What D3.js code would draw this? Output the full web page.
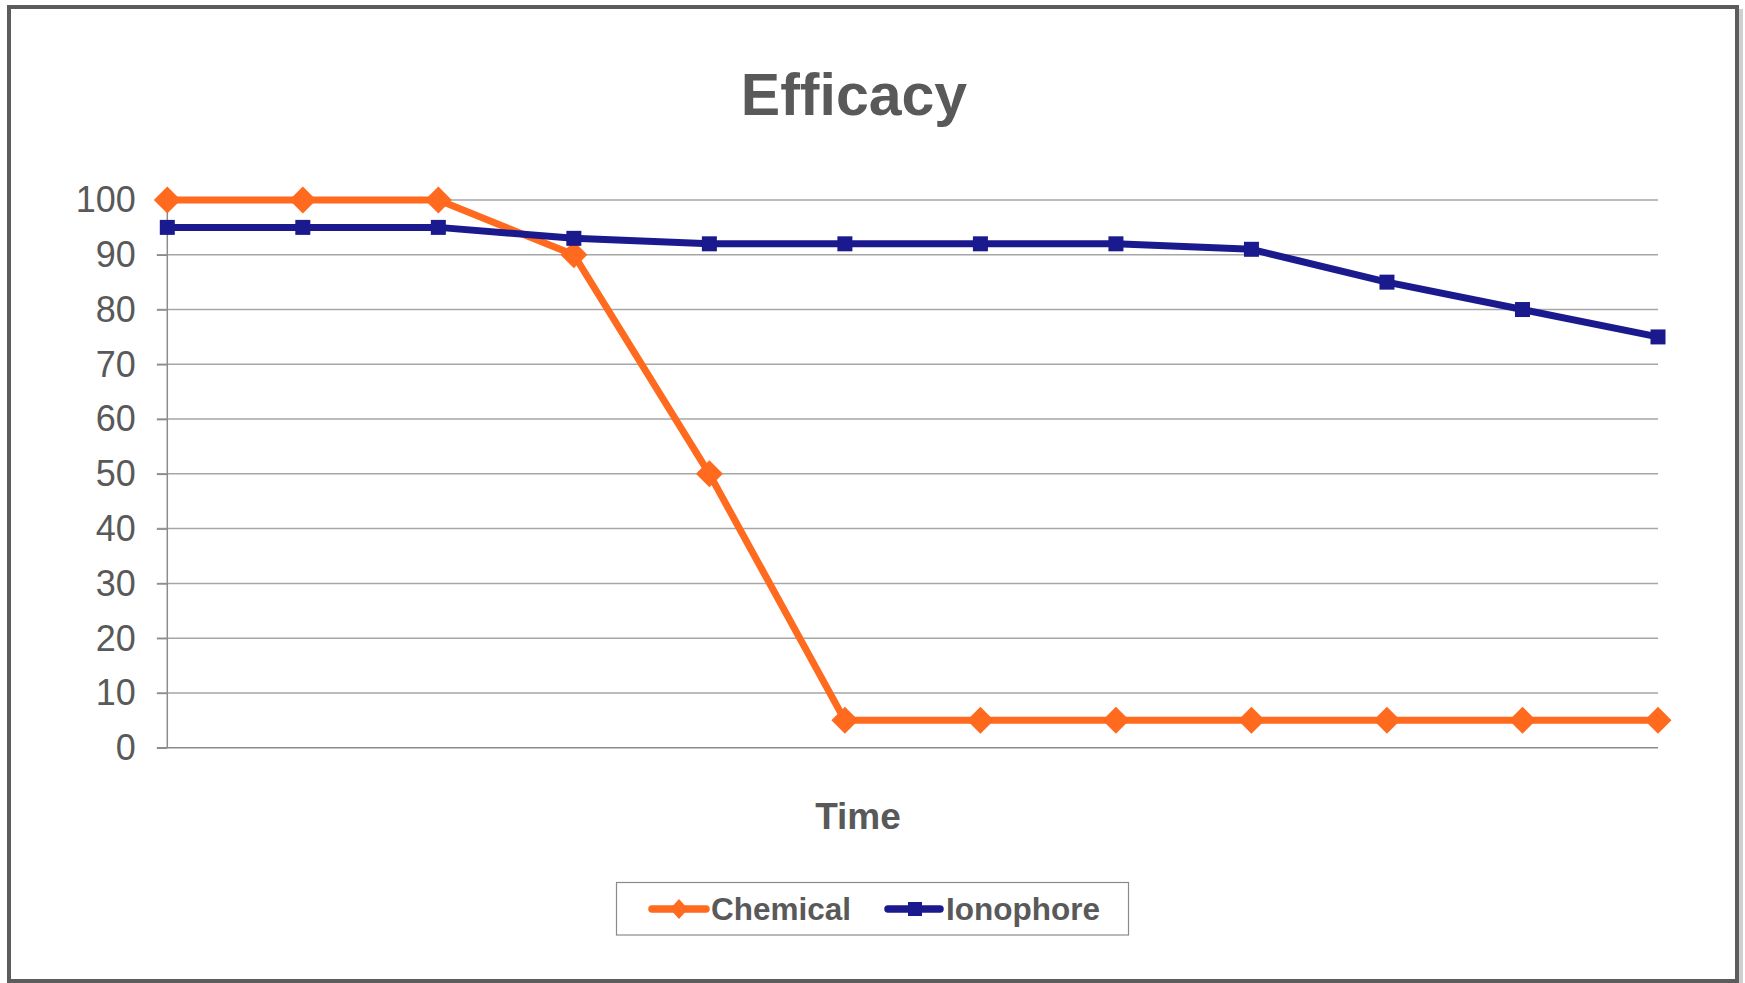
<!DOCTYPE html>
<html><head><meta charset="utf-8">
<script src="https://cdn.jsdelivr.net/npm/d3@7"></script>
<style>html,body{margin:0;padding:0;background:#fff;overflow:hidden}svg{display:block}</style>
</head><body>
<svg id="c" width="1745" height="983"></svg>
<script>
const categories = [1,2,3,4,5,6,7,8,9,10,11,12];
const chemical = [100,100,100,90,50,5,5,5,5,5,5,5];
const ionophore = [95,95,95,93,92,92,92,92,91,85,80,75];
const yTicks = [0,10,20,30,40,50,60,70,80,90,100];
const seriesNames = ["Chemical","Ionophore"];

const svg = d3.select("#c");
const font = "Liberation Sans, Arial, Helvetica, sans-serif";
const textCol = "#595959";
const orange = "#FF6A1E", navy = "#1A1A8E";

// shadow + border
svg.append("rect").attr("x",13).attr("y",11).attr("width",1728).attr("height",974)
  .attr("fill","none").attr("stroke","#cfcfcf").attr("stroke-width",4);
svg.append("rect").attr("x",9).attr("y",7).attr("width",1728).attr("height",974)
  .attr("fill","#fff").attr("stroke","#5c5c5c").attr("stroke-width",4);

const x = d3.scalePoint().domain(categories).range([167.3,1658]).padding(0);
const y = d3.scaleLinear().domain([0,100]).range([747.7,200]);

// gridlines
const grid = svg.append("g");
grid.selectAll("line").data(yTicks.filter(d=>d>0)).join("line")
  .attr("x1",157).attr("x2",1658).attr("y1",d=>y(d)).attr("y2",d=>y(d))
  .attr("stroke","#a6a6a6").attr("stroke-width",1.5);

// y axis
const yAxis = svg.append("g").attr("transform","translate(167.3,0)")
  .call(d3.axisLeft(y).tickValues(yTicks).tickSize(10.5).tickPadding(21).tickFormat(d3.format("d")));
yAxis.select(".domain").attr("stroke","#8c8c8c").attr("stroke-width",1.5).attr("d","M0,"+y(0)+"V"+y(100));
yAxis.selectAll(".tick line").attr("stroke","#8c8c8c").attr("stroke-width",1.5);
yAxis.selectAll(".tick text").attr("fill",textCol).style("font-family",font).style("font-size","36px").attr("dy","0.33em");

// x axis baseline
const xAxis = svg.append("g").attr("transform","translate(0,"+y(0)+")")
  .call(d3.axisBottom(x).tickSize(0).tickFormat(""));
xAxis.select(".domain").attr("stroke","#8c8c8c").attr("stroke-width",1.5).attr("d","M157,0H1658");

// lines
const line = d3.line().x((d,i)=>x(categories[i])).y(d=>y(d));
svg.append("path").datum(chemical).attr("d",line).attr("fill","none")
  .attr("stroke",orange).attr("stroke-width",7).attr("stroke-linejoin","round");
svg.append("path").datum(ionophore).attr("d",line).attr("fill","none")
  .attr("stroke",navy).attr("stroke-width",7).attr("stroke-linejoin","round");

// markers
svg.append("g").selectAll("path").data(chemical).join("path")
  .attr("transform",(d,i)=>`translate(${x(categories[i])},${y(d)})`)
  .attr("d","M0,-13.5L13.5,0L0,13.5L-13.5,0Z").attr("fill",orange);
svg.append("g").selectAll("rect").data(ionophore).join("rect")
  .attr("x",(d,i)=>x(categories[i])-7.5).attr("y",d=>y(d)-7.5)
  .attr("width",15).attr("height",15).attr("fill",navy);

// title
svg.append("text").attr("x",854).attr("y",115).attr("text-anchor","middle")
  .style("font-family",font).style("font-size","59px").style("font-weight","bold")
  .attr("fill",textCol).text("Efficacy");
svg.append("text").attr("x",858).attr("y",828.5).attr("text-anchor","middle")
  .style("font-family",font).style("font-size","37px").style("font-weight","bold")
  .attr("fill",textCol).text("Time");

// legend
const lg = svg.append("g");
lg.append("rect").attr("x",616.5).attr("y",882.5).attr("width",512).attr("height",52.5)
  .attr("fill","#fff").attr("stroke","#8a8a8a").attr("stroke-width",1.2);
const ly = 909;
const items = [
  {name:seriesNames[0], col:orange, x1:652, x2:706, mx:679, tx:711, shape:"diamond"},
  {name:seriesNames[1], col:navy, x1:888, x2:940, mx:915, tx:946, shape:"square"}
];
items.forEach(it=>{
  lg.append("line").attr("x1",it.x1).attr("x2",it.x2).attr("y1",ly).attr("y2",ly)
    .attr("stroke",it.col).attr("stroke-width",7.5).attr("stroke-linecap","round");
  if(it.shape==="diamond"){
    lg.append("path").attr("transform",`translate(${it.mx},${ly})`)
      .attr("d","M0,-10L9,0L0,10L-9,0Z").attr("fill",it.col);
  } else {
    lg.append("rect").attr("x",it.mx-7).attr("y",ly-7).attr("width",14).attr("height",14).attr("fill",it.col);
  }
  lg.append("text").attr("x",it.tx).attr("y",ly).attr("dy","0.36em")
    .style("font-family",font).style("font-size","31.5px").style("font-weight","bold")
    .attr("fill",textCol).text(it.name);
});
</script>
</body></html>
